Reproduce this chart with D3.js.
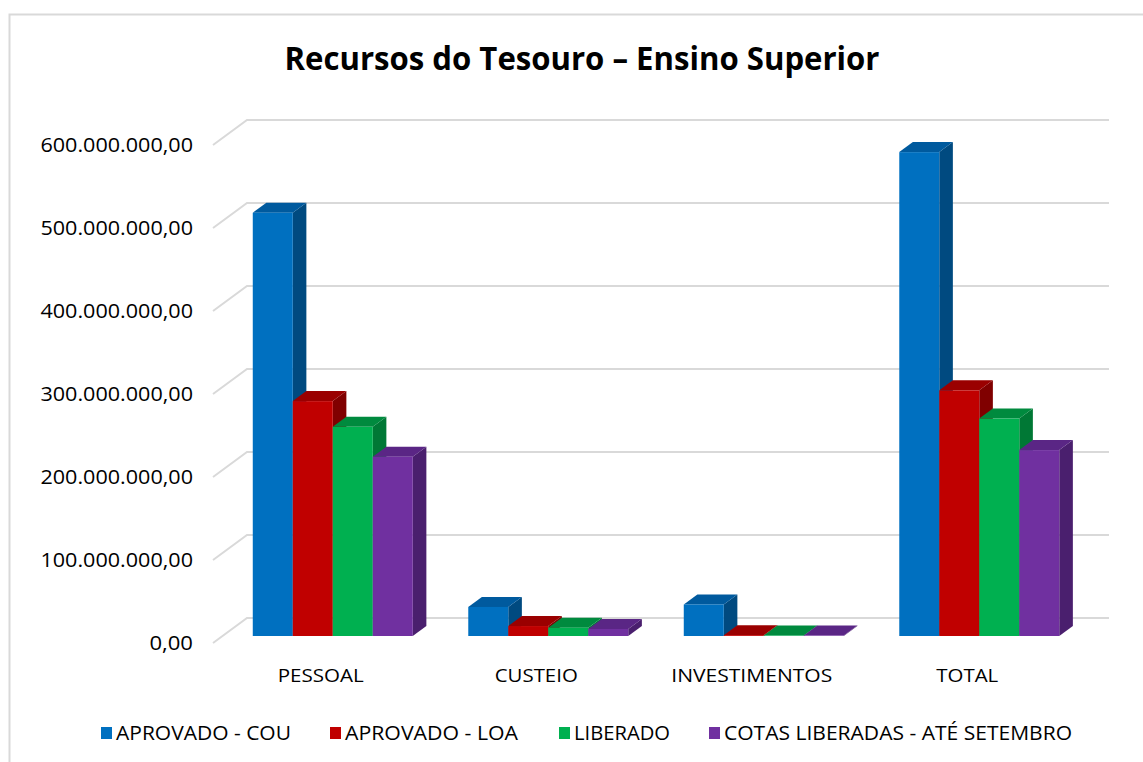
<!DOCTYPE html>
<html>
<head>
<meta charset="utf-8">
<script src="https://cdn.jsdelivr.net/npm/d3@7"></script>
<style>
  body { margin: 0; background: #fff; }
  svg text { font-family: "Open Sans", "Noto Sans", sans-serif; fill: #000; }
</style>
</head>
<body>
<div></div>
<script>
// data (R$)
var categories = ["PESSOAL", "CUSTEIO", "INVESTIMENTOS", "TOTAL"];
var series = ["APROVADO - COU", "APROVADO - LOA", "LIBERADO", "COTAS LIBERADAS - ATÉ SETEMBRO"];
var aprovadoCou = [510e6, 35e6, 38e6, 583e6];
var aprovadoLoa = [283e6, 12e6, 1e6, 296e6];
var liberado    = [252e6, 10e6, 0.5e6, 262e6];
var cotasSet    = [216e6, 8.5e6, 0.5e6, 224e6];
var values = [aprovadoCou, aprovadoLoa, liberado, cotasSet];
var yTicks = [0, 100e6, 200e6, 300e6, 400e6, 500e6, 600e6];

var colors = ["#0070C0", "#C00000", "#00B050", "#7030A0"];
var topColors = ["#005A9E", "#9A0000", "#008A3E", "#5A2685"];
var sideColors = ["#004A80", "#800000", "#007835", "#4A1F6E"];

var W = 1143, H = 762;

// oblique "3d" frame
var floorX = 213, floorY = 643;      // front-left corner of the floor
var depthX = 34, depthY = -25;       // full depth of the box
var z0 = 0.28, zd = 0.4;             // where bars sit in depth, and how deep they are
var plotW = 862;

var svg = d3.select("div").append("svg")
    .attr("width", W)
    .attr("height", H);

// chart border (only top + left visible in the crop)
svg.append("path")
    .attr("d", "M 9.5 " + (H + 2) + " L 9.5 14.5 L " + (W + 2) + " 14.5")
    .attr("fill", "none")
    .attr("stroke", "#d9d9d9")
    .attr("stroke-width", 2);

var y = d3.scaleLinear().domain([0, 600e6]).range([0, 498]);
var x0 = d3.scaleBand().domain(categories).range([floorX, floorX + plotW]);
var x1 = d3.scaleBand().domain(series).range([0, 160]);

var fmt = function(v) {
    return d3.format(",.2f")(v).replace(/,/g, "#").replace(/\./g, ",").replace(/#/g, ".");
};

// gridlines: short diagonal on the floor side + line on the back wall
svg.append("g").selectAll("path")
    .data(yTicks)
    .join("path")
    .attr("d", function(t) {
        var fy = floorY - y(t);
        return "M " + floorX + " " + fy
            + " L " + (floorX + depthX) + " " + (fy + depthY)
            + " L " + (floorX + depthX + plotW) + " " + (fy + depthY);
    })
    .attr("fill", "none")
    .attr("stroke", "#d9d9d9")
    .attr("stroke-width", 2);

svg.append("g").selectAll("text")
    .data(yTicks)
    .join("text")
    .attr("x", 193)
    .attr("y", function(t) { return floorY - y(t) + 7; })
    .attr("text-anchor", "end")
    .attr("textLength", function(t) { return fmt(t).length * 10.9; })
    .attr("lengthAdjust", "spacingAndGlyphs")
    .style("font-size", "20px")
    .text(fmt);

// bars
var bx = depthX * zd, by = depthY * zd;
var base = floorY + depthY * z0;
var gBars = svg.append("g");

categories.forEach(function(c, ci) {
    series.forEach(function(s, si) {
        var v = values[si][ci];
        var x = x0(c) + x0.bandwidth() / 2 - 80 + depthX * z0 + 2.5 + x1(s);
        var w = x1.bandwidth();
        var top = base - y(v);
        var g = gBars.append("g");
        g.append("path")
            .attr("d", "M " + (x + w) + " " + top + " L " + (x + w + bx) + " " + (top + by)
                + " L " + (x + w + bx) + " " + (base + by) + " L " + (x + w) + " " + base + " Z")
            .attr("fill", sideColors[si]);
        g.append("path")
            .attr("d", "M " + x + " " + top + " L " + (x + bx) + " " + (top + by)
                + " L " + (x + w + bx) + " " + (top + by) + " L " + (x + w) + " " + top + " Z")
            .attr("fill", topColors[si]);
        g.append("rect")
            .attr("x", x)
            .attr("y", top)
            .attr("width", w)
            .attr("height", base - top)
            .attr("fill", colors[si]);
    });
});

// category labels
var catWidths = [86, 83, 161, 62];
svg.append("g").selectAll("text")
    .data(categories)
    .join("text")
    .attr("x", function(c) { return x0(c) + x0.bandwidth() / 2; })
    .attr("y", 682)
    .attr("text-anchor", "middle")
    .attr("textLength", function(c, i) { return catWidths[i]; })
    .attr("lengthAdjust", "spacingAndGlyphs")
    .style("font-size", "19px")
    .text(function(c) { return c; });

// title
svg.append("text")
    .attr("x", 582)
    .attr("y", 70)
    .attr("text-anchor", "middle")
    .attr("textLength", 595)
    .attr("lengthAdjust", "spacingAndGlyphs")
    .style("font-size", "32px")
    .style("font-weight", "bold")
    .text("Recursos do Tesouro – Ensino Superior");

// legend
var legX = [101, 330, 559, 709];
var legW = [175, 173, 96, 348];
var leg = svg.append("g").selectAll("g")
    .data(series)
    .join("g")
    .attr("transform", function(s, i) { return "translate(" + legX[i] + ",727)"; });
leg.append("rect")
    .attr("width", 11)
    .attr("height", 12)
    .attr("fill", function(s, i) { return colors[i]; });
leg.append("text")
    .attr("x", 15)
    .attr("y", 13)
    .attr("textLength", function(s, i) { return legW[i]; })
    .attr("lengthAdjust", "spacingAndGlyphs")
    .style("font-size", "20px")
    .text(function(s) { return s; });
</script>
</body>
</html>
